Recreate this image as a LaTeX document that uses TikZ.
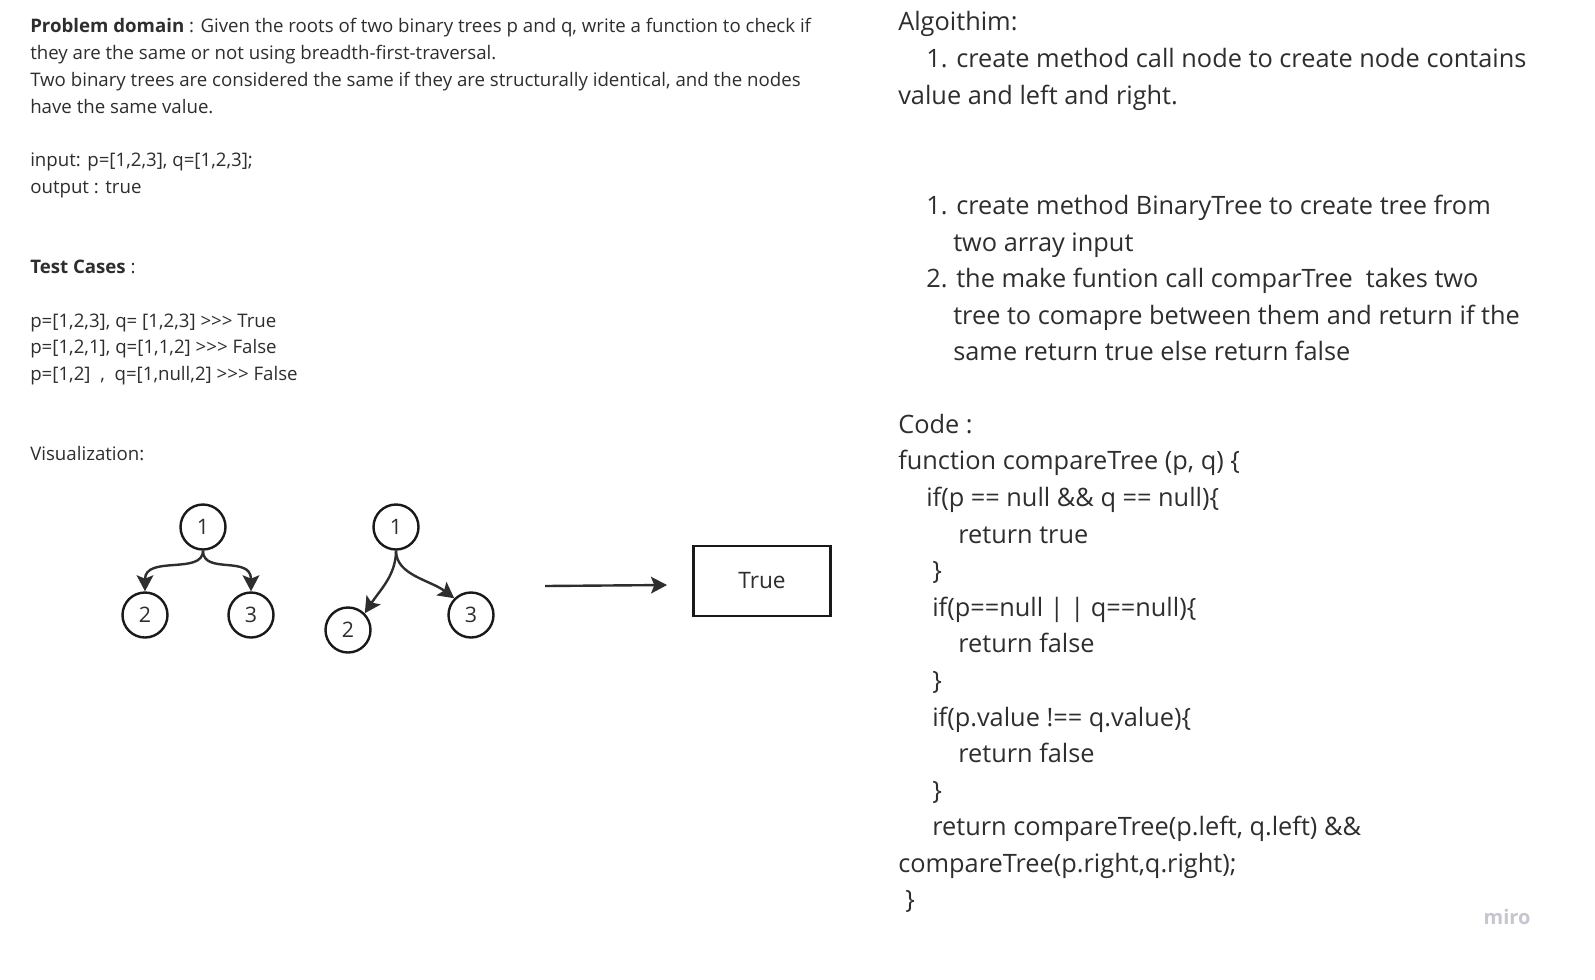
\documentclass[tikz,border=0pt]{standalone}
\usepackage{fontspec}
\setmainfont{Open Sans}[Ligatures=TeXOff]
\usetikzlibrary{arrows.meta,positioning}
\definecolor{inkgray}{HTML}{2E2E2E}
\definecolor{mirogray}{HTML}{C5C6CF}
\tikzset{
  note/.style={anchor=base west, inner sep=0pt, text=inkgray, font=\fontsize{14}{16}\selectfont},
  algo/.style={anchor=base west, inner sep=0pt, text=inkgray, font=\fontsize{19}{22}\selectfont},
  treenode/.style={circle, draw=black!90, line width=1.8pt, minimum size=33.75pt, inner sep=0pt, text=inkgray, font=\fontsize{16}{18}\selectfont},
  link/.style={draw=inkgray, line width=1.8pt, -{Stealth[length=12pt,width=12.5pt,inset=2.5pt]}},
  result/.style={draw=black!90, line width=1.6pt, minimum width=102.75pt, minimum height=52.5pt, inner sep=0pt, text=inkgray, font=\fontsize{17}{20}\selectfont}
}

\begin{document}
\begin{tikzpicture}[x=0.75pt,y=-0.75pt]
\useasboundingbox[fill=white] (0,0) rectangle (1595,979);

\node[note] (pd1) at (30,32) {\textbf{Problem domain} : Given the roots of two binary trees p and q, write a function to check if};
\node[note] (pd2) at (30,59) {they are the same or not using breadth-first-traversal.};
\node[note] (pd3) at (30,86) {Two binary trees are considered the same if they are structurally identical, and the nodes};
\node[note] (pd4) at (30,113) {have the same value.};
\node[note] (inp) at (30,166) {input: p=[1,2,3], q=[1,2,3];};
\node[note] (outp) at (30,193) {output : true};
\node[note] (tc) at (30,273) {\textbf{Test Cases} :};
\node[note] (tc1) at (30,327) {p=[1,2,3], q= [1,2,3] >>> True};
\node[note] (tc2) at (30,353) {p=[1,2,1], q=[1,1,2] >>> False};
\node[note] (tc3) at (30,380) {p=[1,2]~~,~~q=[1,null,2] >>> False};
\node[note] (vis) at (30,460) {Visualization:};

\node[treenode] (p1) at (203,527) {1};
\node[treenode] (p2) at (145,615) {2};
\node[treenode] (p3) at (251,615) {3};
\draw[link] (p1.south) .. controls (203,575) and (145,555) .. (p2.north);
\draw[link] (p1.south) .. controls (203,575) and (251,555) .. (p3.north);

\node[treenode] (q1) at (396,527) {1};
\node[treenode] (q2) at (348,630) {2};
\node[treenode] (q3) at (471,615) {3};
\draw[link] (q1.south) .. controls (396,575) and (380,590) .. (q2.north east);
\draw[link] (q1.south) .. controls (396,575) and (430,580) .. (q3.north west);

\coordinate (go) at (545,586);
\node[result] (res) at (762,581) {True};
\draw[link] (go) -- (667,585);

\node[algo] (alg) at (898,30) {Algoithim:};
\node[algo] (a1) at (926,67) {1. create method call node to create node contains};
\node[algo] (a1b) at (898,104) {value and left and right.};
\node[algo] (b1) at (926,214) {1. create method BinaryTree to create tree from};
\node[algo] (b1b) at (953,251) {two array input};
\node[algo] (b2) at (926,287) {2. the make funtion call comparTree~~takes two};
\node[algo] (b2b) at (953,324) {tree to comapre between them and return if the};
\node[algo] (b2c) at (953,360) {same return true else return false};

\node[algo] (code) at (898,433) {Code :};
\node[algo] (c1) at (898,469) {function compareTree (p, q) \{};
\node[algo] (c2) at (926,506) {if(p == null \&\& q == null)\{};
\node[algo] (c3) at (958,543) {return true};
\node[algo] (c4) at (932,579) {\}};
\node[algo] (c5) at (932,616) {if(p==null | | q==null)\{};
\node[algo] (c6) at (958,652) {return false};
\node[algo] (c7) at (932,689) {\}};
\node[algo] (c8) at (932,726) {if(p.value !== q.value)\{};
\node[algo] (c9) at (958,762) {return false};
\node[algo] (c10) at (932,799) {\}};
\node[algo] (c11) at (932,835) {return compareTree(p.left, q.left) \&\&};
\node[algo] (c12) at (898,872) {compareTree(p.right,q.right);};
\node[algo] (c13) at (905,908) {\}};

\node[anchor=base, inner sep=0pt, text=mirogray, font=\fontsize{15}{17}\selectfont\bfseries] (logo) at (1507,924) {miro};
\end{tikzpicture}
\end{document}
